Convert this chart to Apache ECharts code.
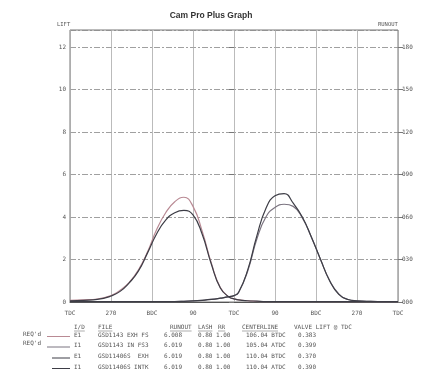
<!DOCTYPE html>
<html>
<head>
<meta charset="utf-8">
<style>
  html, body { margin: 0; padding: 0; background: #fff; }
  #chart { width: 422px; height: 374px; }
</style>
<script src="https://cdn.jsdelivr.net/npm/echarts@6/dist/echarts.min.js"></script>
</head>
<body>
<div id="chart"></div>
<script>
// crank degrees, TDC(-360) .. TDC(360)
var degs = [-360, -330, -300, -270, -250, -230, -210, -190, -170, -150, -130, -110, -90, -70, -50, -30, -10, 0, 10, 30, 50, 70, 90, 110, 130, 150, 170, 190, 210, 230, 250, 270, 300, 330, 360];

// lift curves
var exhReq = [0.08, 0.1, 0.14, 0.3, 0.55, 0.92, 1.5, 2.35, 3.4, 4.2, 4.72, 4.93, 4.5, 3.35, 1.85, 0.68, 0.22, 0.15, 0.1, 0.06, 0.03, 0.02, 0.02, 0.02, 0.02, 0.02, 0.02, 0.02, 0.02, 0.02, 0.02, 0.02, 0.02, 0.02, 0.02];
var intReq = [0.02, 0.02, 0.02, 0.02, 0.02, 0.02, 0.02, 0.02, 0.02, 0.02, 0.02, 0.03, 0.05, 0.08, 0.12, 0.18, 0.25, 0.3, 0.45, 1.45, 2.95, 4.0, 4.45, 4.6, 4.5, 3.95, 3.05, 2.0, 1.0, 0.38, 0.12, 0.06, 0.03, 0.02, 0.02];
var exhAct = [0.05, 0.08, 0.12, 0.28, 0.5, 0.9, 1.45, 2.3, 3.2, 3.85, 4.2, 4.31, 4.1, 3.2, 1.8, 0.66, 0.22, 0.15, 0.1, 0.06, 0.04, 0.02, 0.02, 0.02, 0.02, 0.02, 0.02, 0.02, 0.02, 0.02, 0.02, 0.02, 0.02, 0.02, 0.02];
var intAct = [0.02, 0.02, 0.02, 0.02, 0.02, 0.02, 0.02, 0.02, 0.02, 0.02, 0.02, 0.03, 0.05, 0.08, 0.12, 0.18, 0.25, 0.3, 0.45, 1.5, 3.1, 4.4, 5.0, 5.1, 4.65, 4.0, 3.05, 2.0, 1.0, 0.36, 0.12, 0.06, 0.03, 0.02, 0.02];

var xTicks = { "-360": "TDC", "-270": "270", "-180": "BDC", "-90": "90", "0": "TDC", "90": "90", "180": "BDC", "270": "270", "360": "TDC" };
var rightTicks = ["000", "030", "060", "090", "120", "150", "180"];

// legend table
var ids = ["E1", "I1", "E1", "I1"];
var files = ["GSD1143 EXH FS", "GSD1143 IN FS3", "GSD11406S  EXH", "GSD11406S INTK"];
var runouts = ["6.008", "6.019", "6.019", "6.019"];
var lashes = ["0.80", "0.80", "0.80", "0.80"];
var rrs = ["1.00", "1.00", "1.00", "1.00"];
var centers = ["106.04 BTDC", "105.04 ATDC", "110.04 BTDC", "110.04 ATDC"];
var tdcLifts = ["0.383", "0.399", "0.370", "0.390"];

var colors = ["#b98a94", "#7b7480", "#3d3d46", "#3d3d46"];
var seriesData = [exhReq, intReq, exhAct, intAct];

function pairs(arr) {
  return degs.map(function (d, i) { return [d, arr[i]]; });
}

var mono = "DejaVu Sans Mono";
var txt = "#555";
var fs = 6;
var rowY = [335, 345.5, 356.5, 367];

var graphics = [
  { type: "text", left: "center", top: 11, style: { text: "Cam Pro Plus Graph", font: "bold 8.5px Liberation Sans", fill: "#333" } },
  { type: "text", x: 57, y: 22, style: { text: "LIFT", font: "5.5px " + mono, fill: txt } },
  { type: "text", x: 378, y: 22, style: { text: "RUNOUT", font: "5.5px " + mono, fill: txt } }
];

// header
var heads = [["I/D", 74], ["FILE", 98], ["RUNOUT", 170], ["LASH", 198], ["RR", 218], ["CENTERLINE", 242], ["VALVE LIFT @ TDC", 294]];
heads.forEach(function (h) {
  graphics.push({ type: "text", x: h[1], y: 324, style: { text: h[0], font: fs + "px " + mono, fill: txt } });
  if (h[0] !== "VALVE LIFT @ TDC") {
    graphics.push({ type: "line", shape: { x1: h[1], y1: 331, x2: h[1] + h[0].length * fs * 0.6, y2: 331 }, style: { stroke: "#777", lineWidth: 0.6 } });
  }
});

rowY.forEach(function (y, i) {
  var cols = [[ids[i], 74], [files[i], 98], [runouts[i], 164], [lashes[i], 198], [rrs[i], 216], [centers[i], 246], [tdcLifts[i], 298]];
  cols.forEach(function (c) {
    graphics.push({ type: "text", x: c[1], y: y - 3, style: { text: c[0], font: fs + "px " + mono, fill: txt } });
  });
  var x1 = i < 2 ? 47 : 52;
  graphics.push({ type: "line", shape: { x1: x1, y1: y + 1.5, x2: 70, y2: y + 1.5 }, style: { stroke: colors[i], lineWidth: 1 } });
});
graphics.push({ type: "text", x: 23, y: 331, style: { text: "REQ'd", font: "6px " + mono, fill: txt } });
graphics.push({ type: "text", x: 23, y: 340, style: { text: "REQ'd", font: "6px " + mono, fill: txt } });

var chart = echarts.init(document.getElementById("chart"), null, { renderer: "canvas" });
chart.setOption({
  animation: false,
  backgroundColor: "#fff",
  grid: { left: 70, right: 24, top: 30, bottom: 72, show: true, borderColor: "#777", borderWidth: 1 },
  xAxis: {
    type: "value", min: -360, max: 360, interval: 90,
    axisLine: { show: true, lineStyle: { color: "#555", width: 1 } },
    axisTick: { show: false },
    axisLabel: { formatter: function (v) { return xTicks[String(v)] || ""; }, fontFamily: mono, fontSize: 6, color: txt, margin: 8 },
    splitLine: { show: true, lineStyle: { color: "#aaa", width: 0.8 } }
  },
  yAxis: [{
    type: "value", min: 0, max: 12.8, interval: 2,
    axisLine: { show: false },
    axisTick: { show: true, inside: false, length: 5, lineStyle: { color: "#777" } },
    axisLabel: { showMaxLabel: false, fontFamily: mono, fontSize: 6, color: txt, margin: 4 },
    splitLine: { show: true, lineStyle: { color: "#888", width: 0.8, type: [6, 2, 2, 2] } }
  }, {
    type: "value", min: 0, max: 12.8, interval: 2, position: "right",
    axisLine: { show: false },
    axisTick: { show: true, inside: false, length: 5, lineStyle: { color: "#777" } },
    axisLabel: { showMaxLabel: false, formatter: function (v) { return rightTicks[Math.round(v / 2)] || ""; }, fontFamily: mono, fontSize: 6, color: txt, margin: 4 },
    splitLine: { show: false }
  }],
  series: seriesData.map(function (arr, i) {
    return {
      type: "line", smooth: 0.5, showSymbol: false, silent: true,
      data: pairs(arr), z: i < 2 ? 3 : 4,
      lineStyle: { color: colors[i], width: 1.2 }
    };
  }),
  graphic: graphics
});
</script>
</body>
</html>
